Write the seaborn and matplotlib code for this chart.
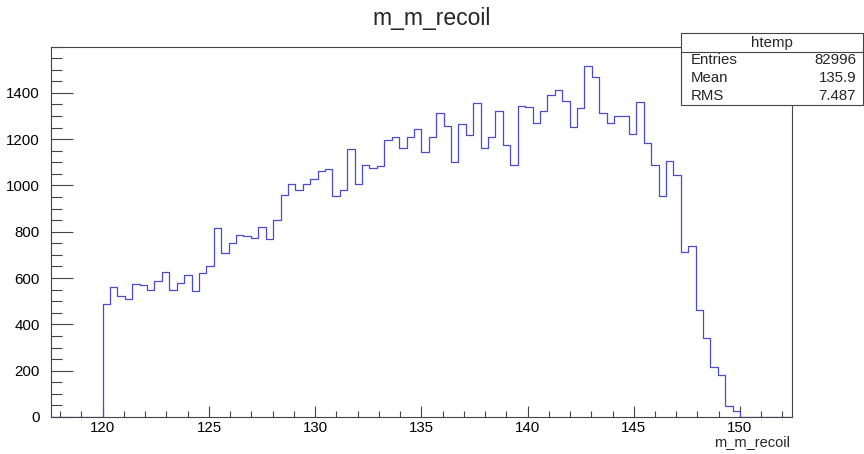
import numpy as np
import pandas as pd
import matplotlib
matplotlib.use("Agg")
import matplotlib.pyplot as plt
from matplotlib.patches import Rectangle
from matplotlib.ticker import MultipleLocator
import seaborn as sns

# ---- data ----
x_min, x_max, n_bins = 117.55, 152.45, 100   # histogram axis range / binning
first_filled_bin = 7                          # first non-empty bin index (starts at 120)
counts = [490, 560, 522, 511, 573, 570, 548, 586, 625, 548, 580, 615, 544, 620, 652, 815,
          710, 752, 785, 780, 775, 821, 768, 852, 959, 1005, 982, 1005, 1028, 1063, 1070,
          955, 979, 1156, 1008, 1088, 1075, 1086, 1198, 1210, 1160, 1208, 1242, 1145, 1208,
          1311, 1256, 1100, 1265, 1219, 1354, 1162, 1208, 1322, 1175, 1087, 1341, 1337, 1269, 1320,
          1391, 1412, 1366, 1254, 1334, 1516, 1469, 1312, 1268, 1301, 1298, 1222, 1360, 1185,
          1090, 955, 1107, 1044, 711, 737, 460, 342, 217, 182, 47, 26]
title = "m_m_recoil"
xlabel = "m_m_recoil"
stats_name = "htemp"
stats_labels = ["Entries", "Mean", "RMS"]
stats_values = ["82996", "135.9", "7.487"]
x_ticks = [120, 125, 130, 135, 140, 145, 150]
y_ticks = [0, 200, 400, 600, 800, 1000, 1200, 1400]

edges = np.linspace(x_min, x_max, n_bins + 1)
centers = 0.5 * (edges[:-1] + edges[1:])
df = pd.DataFrame({"x": centers[first_filled_bin:first_filled_bin + len(counts)],
                   "w": counts})

sns.set_style("ticks")
plt.rcParams["font.family"] = ["Liberation Sans", "DejaVu Sans"]

W, H = 864, 454
fig = plt.figure(figsize=(W / 100, H / 100), dpi=100)
ax = fig.add_axes([50.7 / W, 1 - 417 / H, (792 - 50.7) / W, (417 - 46.5) / H])

sns.histplot(data=df, x="x", weights="w", bins=n_bins, binrange=(x_min, x_max),
             element="step", fill=False, color="#4b4bcc", linewidth=0.9, ax=ax)

ax.set_xlim(x_min, x_max)
ax.set_ylim(0, 1600)
ax.set_xlabel("")
ax.set_ylabel("")
ax.set_xticks(x_ticks)
ax.set_yticks(y_ticks)
ax.xaxis.set_minor_locator(MultipleLocator(1))
ax.yaxis.set_minor_locator(MultipleLocator(50))
for s in ax.spines.values():
    s.set_visible(True)
    s.set_color("#444444")
    s.set_linewidth(0.8)
ax.tick_params(axis="both", which="both", direction="in", colors="#444444",
               labelcolor="black", labelsize=10.8, width=0.8, top=False, right=False)
ax.tick_params(axis="y", which="major", length=15.8, pad=8)
ax.tick_params(axis="y", which="minor", length=7.9)
ax.tick_params(axis="x", which="major", length=7.9, pad=3)
ax.tick_params(axis="x", which="minor", length=4.0)

fig.text(432 / W, 1 - 18 / H, title, ha="center", va="center", fontsize=16.5)
fig.text(790.5 / W, 1 - 446.5 / H, xlabel, ha="right", va="baseline", fontsize=10.5)

# stats box
bx0, bx1 = 681 / W, 863 / W
by_top, by_bot, by_sep = 1 - 33 / H, 1 - 104.5 / H, 1 - 52 / H
fig.patches.append(Rectangle((bx0, by_bot), bx1 - bx0, by_top - by_bot, transform=fig.transFigure,
                             facecolor="white", edgecolor="#444444", linewidth=0.8, zorder=10))
fig.lines.append(plt.Line2D([bx0, bx1], [by_sep, by_sep], transform=fig.transFigure,
                            color="#444444", linewidth=0.8, zorder=11))
fig.text((bx0 + bx1) / 2, 1 - 43 / H, stats_name, ha="center", va="center", fontsize=10.8, zorder=12)
for i, (lab, val) in enumerate(zip(stats_labels, stats_values)):
    yy = 1 - (60.5 + 18 * i) / H
    fig.text(691 / W, yy, lab, ha="left", va="center", fontsize=10.8, zorder=12)
    fig.text(856 / W, yy, val, ha="right", va="center", fontsize=10.8, zorder=12)

fig.savefig("out.png", dpi=100)
